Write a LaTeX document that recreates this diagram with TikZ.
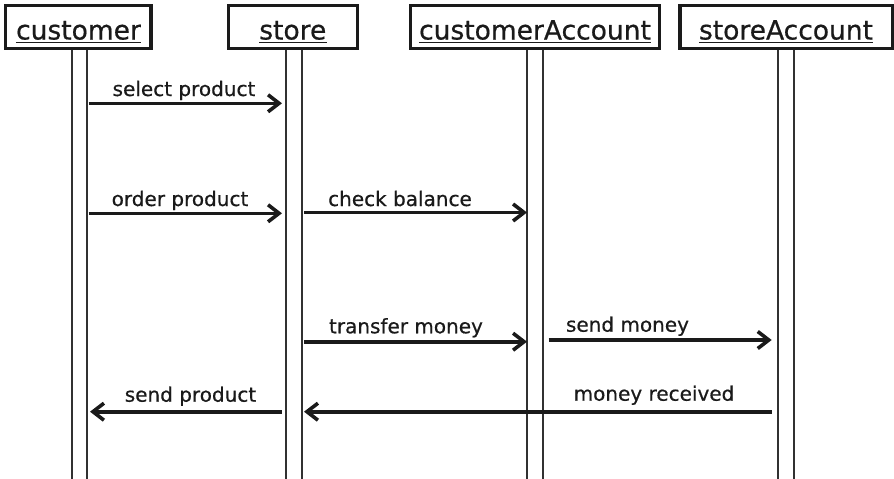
\documentclass[tikz,border=0pt]{standalone}
\usepackage{fontspec}
\setmainfont[FakeBold=0.6]{DejaVu Sans}
\usetikzlibrary{arrows.meta}
\definecolor{ink}{HTML}{1A1A1A}
\begin{document}
\begin{tikzpicture}[x=1pt,y=-1pt,
  obj/.style={draw=ink,line width=3.2pt,rectangle,inner sep=0pt,minimum height=43pt},
  objtext/.style={inner sep=0pt,anchor=base,font=\fontsize{26.5}{30}\selectfont,text=ink},
  uline/.style={draw=ink,line width=1.8pt},
  life/.style={draw=ink!90,line width=1.4pt},
  msg/.style={draw=ink,line width=3.6pt,-{Straight Barb[length=11pt,width=17pt]}},
  lbl/.style={inner sep=0pt,anchor=base,font=\fontsize{20}{24}\selectfont,text=ink}]
\useasboundingbox (0,0) rectangle (894,479);

% object boxes
\node[obj,minimum width=145.3pt] (cbox) at (78.3,27) {};
\node[obj,minimum width=129.6pt] (sbox) at (293,27) {};
\node[obj,minimum width=248.7pt] (cabox) at (535.2,27) {};
\node[obj,minimum width=213pt] (sabox) at (786.4,27) {};

% object names
\node[objtext] (ct) at (78.5,39.5) {customer};
\node[objtext] (st) at (292.8,39.5) {store};
\node[objtext] (cat) at (535,39.5) {customerAccount};
\node[objtext] (sat) at (786,39.5) {storeAccount};
\foreach \t in {ct,st,cat,sat}
  \draw[uline] ([yshift=-3pt]\t.base west) -- ([yshift=-3pt]\t.base east);

% lifelines
\foreach \n/\x in {cA/72,cB/87,sA/286,sB/302,caA/527,caB/543,saA/778,saB/794}{
  \coordinate (\n top) at (\x,50);
  \coordinate (\n bot) at (\x,479);
  \draw[life] (\n top) -- (\n bot);
}

% message end points
\coordinate (m1a) at (88.5,103.3);  \coordinate (m1b) at (282,103.3);
\coordinate (m2a) at (88.5,213.3);  \coordinate (m2b) at (282,213.3);
\coordinate (m3a) at (304,212.5);   \coordinate (m3b) at (527,212.5);
\coordinate (m4a) at (304,341.7);   \coordinate (m4b) at (527,341.7);
\coordinate (m5a) at (548.7,340);   \coordinate (m5b) at (771.7,340);
\coordinate (m6a) at (771.7,411.7); \coordinate (m6b) at (304,411.7);
\coordinate (m7a) at (281.7,411.7); \coordinate (m7b) at (90,411.7);

% messages
\draw[msg] (m1a) -- (m1b);
\draw[msg] (m2a) -- (m2b);
\draw[msg] (m3a) -- (m3b);
\draw[msg] (m4a) -- (m4b);
\draw[msg] (m5a) -- (m5b);
\draw[msg] (m6a) -- (m6b);
\draw[msg] (m7a) -- (m7b);

% labels
\node[lbl] (l1) at (184,96) {select product};
\node[lbl] (l2) at (180,206) {order product};
\node[lbl] (l3) at (400,206) {check balance};
\node[lbl] (l4) at (406,333.3) {transfer money};
\node[lbl] (l5) at (627.5,331.7) {send money};
\node[lbl] (l6) at (654,400.7) {money received};
\node[lbl] (l7) at (190.5,401.7) {send product};
\end{tikzpicture}
\end{document}
